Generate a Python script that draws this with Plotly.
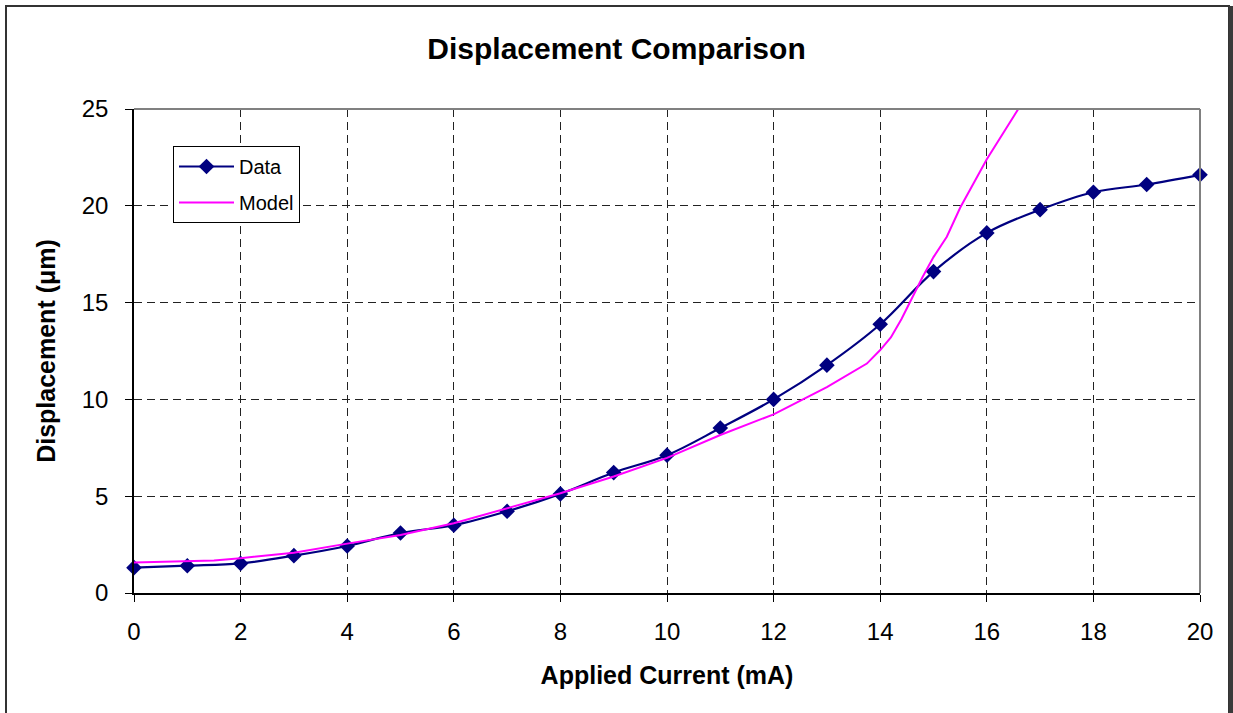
import plotly.graph_objects as go

# Measured displacement at each applied current
current_data = [0, 1, 2, 3, 4, 5, 6, 7, 8, 9, 10, 11, 12, 13, 14, 15, 16, 17, 18, 19, 20]
disp_data = [1.31, 1.41, 1.53, 1.93, 2.43, 3.1, 3.5, 4.22, 5.12, 6.22, 7.12, 8.52, 10.0,
             11.77, 13.88, 16.6, 18.6, 19.8, 20.7, 21.1, 21.6]

# Model prediction
current_model = [0, 1, 1.5, 2, 3, 4, 5, 6, 7, 8, 9, 10, 11, 12, 13, 13.75, 14, 14.2, 14.4,
                 14.6, 14.8, 15, 15.25, 15.5, 16, 16.5, 17]
disp_model = [1.58, 1.66, 1.68, 1.8, 2.08, 2.55, 3.0, 3.6, 4.38, 5.15, 6.02, 6.98, 8.16,
              9.23, 10.63, 11.85, 12.55, 13.2, 14.15, 15.25, 16.35, 17.35, 18.4, 19.9,
              22.4, 24.6, 26.8]

x_ticks = [0, 2, 4, 6, 8, 10, 12, 14, 16, 18, 20]
y_ticks = [0, 5, 10, 15, 20, 25]

FONT = "Liberation Sans, Arial, sans-serif"

fig = go.Figure()
fig.add_trace(go.Scatter(
    x=current_data, y=disp_data, name="Data", mode="lines+markers",
    line=dict(color="#000080", width=2.2, shape="spline"),
    marker=dict(symbol="diamond", size=12, color="#000080"),
    cliponaxis=False, legendgroup="a",
))
fig.add_trace(go.Scatter(
    x=current_model, y=disp_model, name="Model", mode="lines",
    line=dict(color="#FF00FF", width=2), legendgroup="b",
))

W, H = 1233, 713
L, R, T, B = 134, 33, 109, 120
pw, ph = W - L - R, H - T - B

def px_x(p):
    return (p - L) / pw

def px_y(p):
    return (H - B - p) / ph

shapes = [
    # outer chart frame
    dict(type="rect", xref="paper", yref="paper", x0=px_x(6), x1=px_x(1229),
         y0=px_y(740), y1=px_y(6), line=dict(color="#333333", width=2)),
    dict(type="rect", xref="paper", yref="paper", x0=px_x(1229), x1=px_x(1240),
         y0=px_y(740), y1=px_y(6), line=dict(width=0), fillcolor="#3a3a3a"),
    # top and right edges of the plot area
    dict(type="line", xref="paper", yref="paper", x0=0, x1=1, y0=1, y1=1,
         line=dict(color="#808080", width=2)),
    dict(type="line", xref="paper", yref="paper", x0=1, x1=1, y0=0, y1=1,
         line=dict(color="#808080", width=2)),
]

axis_common = dict(
    showline=True, linecolor="black", linewidth=1.5,
    ticks="outside", ticklen=7, tickcolor="black", tickwidth=1,
    showgrid=True, gridcolor="#222222", gridwidth=1, griddash="8px,5px",
    zeroline=False, tickfont=dict(family=FONT, size=24, color="black"),
)

fig.update_layout(
    width=W, height=H, autosize=False,
    margin=dict(l=L, r=R, t=T, b=B),
    paper_bgcolor="white", plot_bgcolor="white",
    font=dict(family=FONT, color="black"),
    title=dict(text="<b>Displacement Comparison</b>", x=0.5, xref="container",
               y=1 - 48 / H, yanchor="middle", xanchor="center",
               font=dict(family=FONT, size=30, color="black")),
    xaxis=dict(range=[0, 20], tickvals=x_ticks, ticklabelstandoff=9,
               title=dict(text="<b>Applied Current (mA)</b>", standoff=23,
                          font=dict(family=FONT, size=25, color="black")),
               **axis_common),
    yaxis=dict(range=[0, 25], tickvals=y_ticks, ticklabelstandoff=12,
               title=dict(text="<b>Displacement (μm)</b>", standoff=19,
                          font=dict(family=FONT, size=25, color="black")),
               **axis_common),
    legend=dict(x=px_x(173), y=px_y(146), xanchor="left", yanchor="top",
                bgcolor="white", bordercolor="black", borderwidth=1,
                font=dict(family=FONT, size=20, color="black"),
                traceorder="grouped", tracegroupgap=7, itemwidth=55),
    shapes=shapes,
)

fig.write_html("out.html")
